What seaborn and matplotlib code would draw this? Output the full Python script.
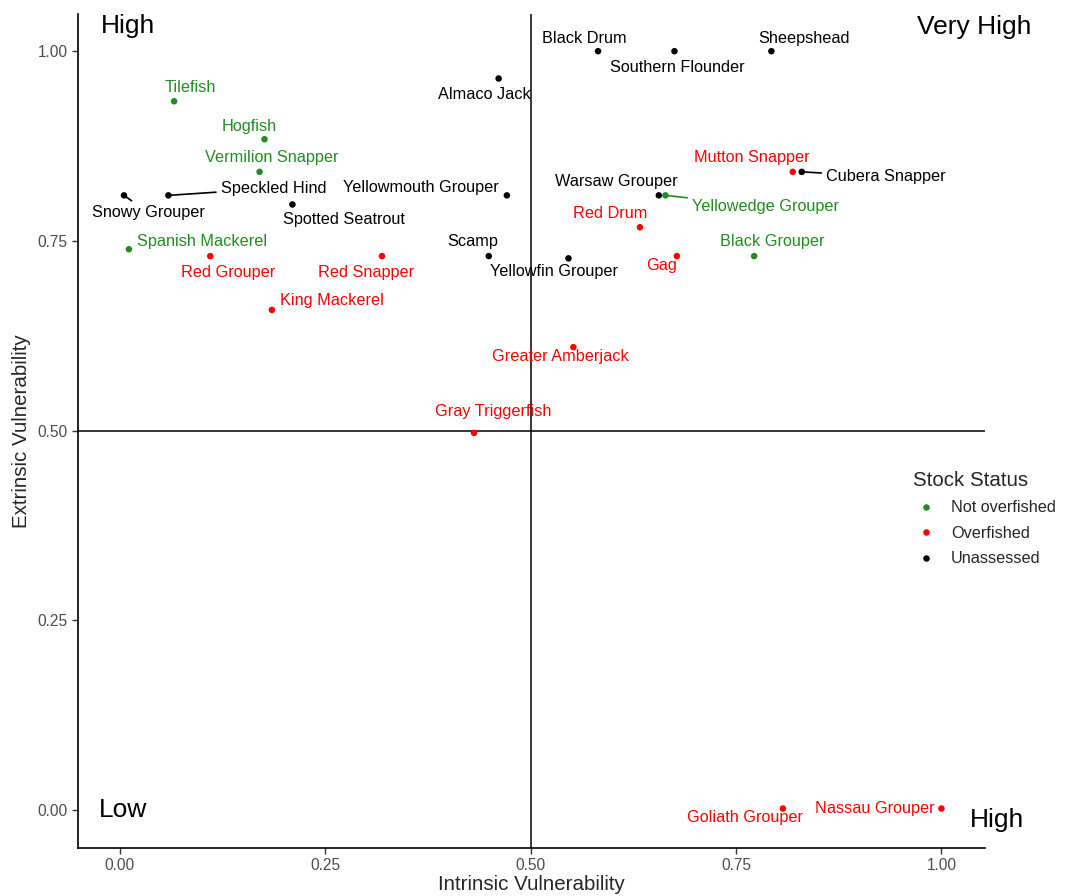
import matplotlib
matplotlib.use("Agg")
import matplotlib.pyplot as plt
import seaborn as sns
import pandas as pd

species = ["Tilefish", "Hogfish", "Vermilion Snapper", "Speckled Hind", "Snowy Grouper",
           "Spotted Seatrout", "Spanish Mackerel", "Red Grouper", "Red Snapper", "King Mackerel",
           "Almaco Jack", "Yellowmouth Grouper", "Scamp", "Yellowfin Grouper", "Black Drum",
           "Southern Flounder", "Sheepshead", "Mutton Snapper", "Cubera Snapper", "Warsaw Grouper",
           "Yellowedge Grouper", "Red Drum", "Gag", "Black Grouper", "Greater Amberjack",
           "Gray Triggerfish", "Goliath Grouper", "Nassau Grouper"]
intrinsic = [0.066, 0.176, 0.170, 0.059, 0.005, 0.210, 0.011, 0.110, 0.319, 0.185,
             0.461, 0.471, 0.449, 0.546, 0.582, 0.675, 0.793, 0.819, 0.830, 0.656,
             0.664, 0.633, 0.678, 0.772, 0.552, 0.431, 0.807, 1.000]
extrinsic = [0.934, 0.884, 0.841, 0.810, 0.810, 0.798, 0.739, 0.730, 0.730, 0.659,
             0.964, 0.810, 0.730, 0.727, 1.000, 1.000, 1.000, 0.841, 0.841, 0.810,
             0.810, 0.768, 0.730, 0.730, 0.610, 0.497, 0.002, 0.002]
status = ["Not overfished", "Not overfished", "Not overfished", "Unassessed", "Unassessed",
          "Unassessed", "Not overfished", "Overfished", "Overfished", "Overfished",
          "Unassessed", "Unassessed", "Unassessed", "Unassessed", "Unassessed",
          "Unassessed", "Unassessed", "Overfished", "Unassessed", "Unassessed",
          "Not overfished", "Overfished", "Overfished", "Not overfished", "Overfished",
          "Overfished", "Overfished", "Overfished"]
status_levels = ["Not overfished", "Overfished", "Unassessed"]
status_colors = ["#228B22", "#FF0000", "#000000"]

# label offsets (pixels) in the repel layout, and whether a segment is drawn
label_dx = [16, -15, 12, 105, 24, 52, 73, 18, -16, 60,
            -14, -86, -16, -14, -14, 3, 33, -41, 84, -43,
            100, -30, -15, 18, -13, 19, -38, -67]
label_dy = [14, 13, 14, 7, -17, -15, 8, -16, -16, 9,
            -16, 8, 15, -13, 13, -16, 13, 14, -5, 14,
            -11, 14, -9, 15, -9, 21, -9, 0]
segment = ["Speckled Hind", "Snowy Grouper", "Cubera Snapper", "Yellowedge Grouper"]

df = pd.DataFrame({"Species": species, "Intrinsic": intrinsic,
                   "Extrinsic": extrinsic, "Stock Status": status})
palette = dict(zip(status_levels, status_colors))

sns.set_theme(style="ticks")
plt.rcParams["font.family"] = ["Liberation Sans", "DejaVu Sans"]

fig = plt.figure(figsize=(10.7, 8.96), dpi=100)
ax = fig.add_axes([78 / 1070, 48 / 896, (985 - 78) / 1070, (848 - 14) / 896])

ax.axvline(0.5, color="black", lw=1.1, zorder=1)
ax.axhline(0.5, color="black", lw=1.1, zorder=1)

sns.scatterplot(data=df, x="Intrinsic", y="Extrinsic", hue="Stock Status",
                hue_order=status_levels, palette=palette, s=22, linewidth=0,
                ax=ax, zorder=3)

for name, xv, yv, st, dx, dy in zip(species, intrinsic, extrinsic, status, label_dx, label_dy):
    arrow = None
    if name in segment:
        arrow = dict(arrowstyle="-", color=palette[st], lw=1.2, shrinkA=1, shrinkB=2)
    ax.annotate(name, xy=(xv, yv), xytext=(dx, dy), textcoords="offset pixels",
                ha="center", va="center", fontsize=11.7, color=palette[st],
                arrowprops=arrow, zorder=4)

corner_text = ["High", "Very High", "Low", "High"]
corner_x = [-0.023, 1.040, 0.004, 1.068]
corner_y = [1.033, 1.032, 0.000, -0.013]
corner_ha = ["left", "center", "center", "center"]
for t, cx, cy, ha in zip(corner_text, corner_x, corner_y, corner_ha):
    ax.text(cx, cy, t, fontsize=19, ha=ha, va="center", color="black", clip_on=False)

ax.set_xlim(-0.051, 1.053)
ax.set_ylim(-0.050, 1.049)
ticks = [0.0, 0.25, 0.5, 0.75, 1.0]
tick_labels = ["0.00", "0.25", "0.50", "0.75", "1.00"]
ax.set_xticks(ticks)
ax.set_xticklabels(tick_labels)
ax.set_yticks(ticks)
ax.set_yticklabels(tick_labels)
ax.tick_params(colors="#333333", labelcolor="#4D4D4D", labelsize=11.2, length=4, width=1)
ax.set_xlabel("Intrinsic Vulnerability", fontsize=14.8, labelpad=1)
ax.set_ylabel("Extrinsic Vulnerability", fontsize=14.8, labelpad=5)
for side in ["top", "right"]:
    ax.spines[side].set_visible(False)
for side in ["left", "bottom"]:
    ax.spines[side].set_linewidth(1.2)
    ax.spines[side].set_color("black")

sns.move_legend(ax, loc="upper left", bbox_to_anchor=(898 / 1070, 1 - 456 / 896),
                bbox_transform=fig.transFigure, frameon=False, title="Stock Status",
                fontsize=11.7, title_fontsize=14.8, markerscale=1.0,
                handletextpad=0.75, handlelength=1.6, labelspacing=0.65)
leg = ax.get_legend()
leg._legend_box.align = "left"

fig.savefig("out.png", dpi=100)
